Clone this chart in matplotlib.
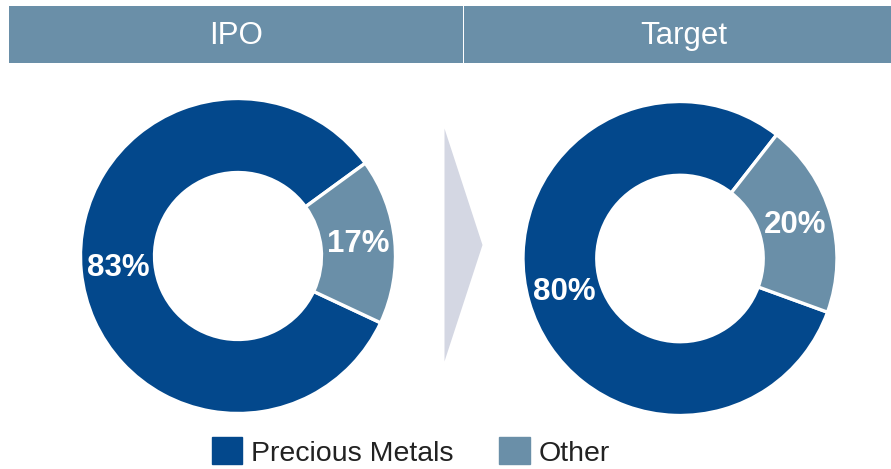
import matplotlib.pyplot as plt
from matplotlib.patches import Rectangle, Polygon

plt.rcParams['font.family'] = ['Liberation Sans', 'DejaVu Sans']

categories = ['Precious Metals', 'Other']
ipo_share = [83, 17]
target_share = [80, 20]
panel_titles = ['IPO', 'Target']

dark_blue = '#03488c'
grey_blue = '#6a8fa8'
colors = [dark_blue, grey_blue]

W, H = 891, 469
fig = plt.figure(figsize=(W / 100, H / 100), dpi=100)
ax = fig.add_axes([0, 0, 1, 1])
ax.set_xlim(0, W)
ax.set_ylim(0, H)
ax.axis('off')

# header bars
ax.add_patch(Rectangle((9, H - 62.7), 453.5, 56.7, color=grey_blue, lw=0))
ax.add_patch(Rectangle((464.2, H - 62.7), W - 464.2, 56.7, color=grey_blue, lw=0))
ax.text(236.5, H - 35.5, panel_titles[0], color='white', fontsize=22.5,
        ha='center', va='center')
ax.text(683.5, H - 35.5, panel_titles[1], color='white', fontsize=22.5,
        ha='center', va='center')

# arrow between the two donuts
ax.add_patch(Polygon([(444.5, H - 128.5), (482.5, H - 245), (444.5, H - 361.5)],
                     closed=True, color='#d4d7e3', lw=0))


def donut(values, center, radius, start):
    ax.pie(values, colors=colors, startangle=start, counterclock=True,
           center=center, radius=radius, frame=True,
           autopct=lambda p: f'{p:.0f}%', pctdistance=0.765,
           wedgeprops=dict(width=radius * 0.47, edgecolor='white', linewidth=2.4),
           textprops=dict(color='white', fontsize=22.5, fontweight='bold'))


donut(ipo_share, (238, H - 256), 157.5, 36.1)
donut(target_share, (680, H - 258.5), 157, 52)

ax.set_xlim(0, W)
ax.set_ylim(0, H)
ax.set_aspect('auto')
ax.axis('off')

handles = [Rectangle((0, 0), 1, 1, color=c) for c in colors]
ax.legend(handles, categories, ncol=2, loc='center',
          bbox_to_anchor=(410.5 / W, 17 / H), frameon=False,
          fontsize=20.5, handlelength=1.08, handleheight=1.08,
          handletextpad=0.3, columnspacing=1.6, labelcolor='#222222',
          borderpad=0, borderaxespad=0)

fig.savefig('out.png', dpi=100)
